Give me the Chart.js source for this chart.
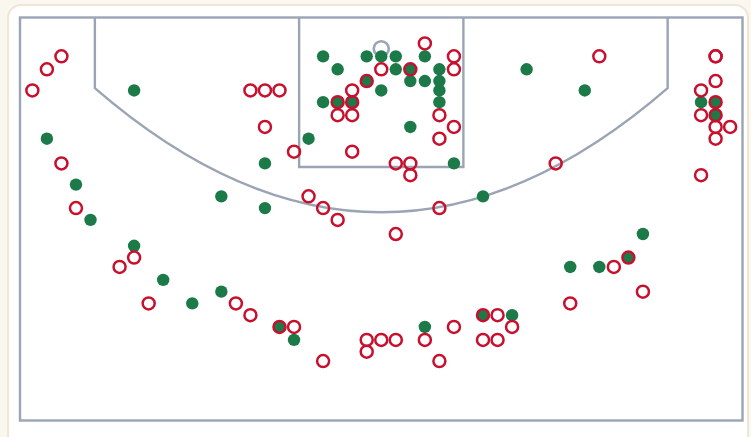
<!DOCTYPE html>
<html>
<head>
<meta charset="utf-8">
<script src="https://cdn.jsdelivr.net/npm/chart.js@4"></script>
<style>
  html, body { margin: 0; padding: 0; background: #faf7ee; overflow: hidden; }
  .card {
    position: absolute; left: 7px; top: 4px; width: 738px; height: 460px;
    background: #fff; border: 2px solid #eee7d6; border-radius: 14px;
  }
  #shotChart { position: absolute; left: 0; top: 0; }
</style>
</head>
<body>
<div class="card"></div>
<canvas id="shotChart" width="751" height="437"></canvas>
<script>
// court position of each shot: x = feet from centre line, y = distance from baseline
const madeX = [-17, -23, -21, -20, -11, -8, -8, -5, -4, -3, -4, -3, -2, -1, -1, 0, 1, 0, 1, 2, 2, 3, 3, 4, 4, 4, 4, 5, 2, 7, 10, 14, 22, 23, 23,
  -17, -15, -13, -11, -7, -6, 3, 7, 9, 13, 15, 17, 18];
const madeY = [6.2, 10.3, 14.2, 17.2, 15.2, 12.4, 16.2, 10.3, 3.3, 4.4, 7.2, 7.2, 7.2, 5.4, 3.3, 3.3, 3.3, 6.2, 4.4, 4.4, 5.4, 5.4, 3.3, 4.4, 5.4, 6.2, 7.2, 12.4, 9.3, 15.2, 4.4, 6.2, 7.2, 7.2, 8.3,
  19.4, 22.3, 24.3, 23.3, 26.3, 27.4, 26.3, 25.3, 25.3, 21.2, 21.2, 20.4, 18.4];

const missX = [-22, -23, -24, -22, -21, -9, -8, -7, -8, -6, -5, -4, -3, -3, -2, -3, -2, -2, -1, 0, 2, 3, 4, 4, 5, 5, 5, -2, 1, 2, 2, 4,
  15, 12, 23, 23, 23, 22, 23, 22, 23, 23, 24, 23, 22,
  -17, -18, -16, -10, -9, 1, -7, -6, -4, -1, 0, 1, -1, 3, 5, 4, 7, 8, 7, 8, 9, 13, 16, 17, 18];
const missY = [3.3, 4.4, 6.2, 12.4, 16.2, 6.2, 6.2, 6.2, 9.3, 11.4, 15.2, 16.2, 17.2, 7.2, 7.2, 8.3, 8.3, 6.2, 5.4, 4.4, 4.4, 2.2, 8.3, 10.3, 3.3, 4.4, 9.3, 11.4, 12.4, 12.4, 13.4, 16.2,
  3.3, 12.4, 3.3, 3.3, 5.4, 6.2, 7.2, 8.3, 8.3, 9.3, 9.3, 10.3, 13.4,
  20.4, 21.2, 24.3, 24.3, 25.3, 18.4, 26.3, 26.3, 29.2, 27.4, 27.4, 27.4, 28.4, 27.4, 26.3, 29.2, 25.3, 25.3, 27.4, 27.4, 26.3, 24.3, 21.2, 20.4, 23.3];

// court markings (same units as the shots)
const courtHalfWidth = 24.85;
const courtDepth = 34.25;
const laneHalfWidth = 5.65;
const laneDepth = 12.7;
const cornerX = 19.7;
const cornerDepth = 6.0;
const arcDepth = 16.55;
const hoopY = 2.65;

const toPoints = (xs, ys) => xs.map((x, i) => ({ x: x, y: ys[i] }));

const courtLines = {
  id: 'courtLines',
  beforeDatasetsDraw(chart) {
    const { ctx, scales: { x, y } } = chart;
    const px = v => x.getPixelForValue(v);
    const py = v => y.getPixelForValue(v);
    ctx.save();
    ctx.strokeStyle = '#9ba4b5';
    ctx.lineWidth = 2.4;
    // outer boundary
    ctx.strokeRect(px(-courtHalfWidth), py(0), px(courtHalfWidth) - px(-courtHalfWidth), py(courtDepth) - py(0));
    // lane
    ctx.beginPath();
    ctx.moveTo(px(-laneHalfWidth), py(0));
    ctx.lineTo(px(-laneHalfWidth), py(laneDepth));
    ctx.lineTo(px(laneHalfWidth), py(laneDepth));
    ctx.lineTo(px(laneHalfWidth), py(0));
    ctx.stroke();
    // three point line
    ctx.beginPath();
    ctx.moveTo(px(-cornerX), py(0));
    ctx.lineTo(px(-cornerX), py(cornerDepth));
    ctx.quadraticCurveTo(px(0), py(2 * arcDepth - cornerDepth), px(cornerX), py(cornerDepth));
    ctx.lineTo(px(cornerX), py(0));
    ctx.stroke();
    // hoop
    ctx.lineWidth = 2.6;
    ctx.beginPath();
    ctx.arc(px(0), py(hoopY), 7.5, 0, Math.PI * 2);
    ctx.stroke();
    ctx.restore();
  }
};

const ctx = document.getElementById('shotChart').getContext('2d');
const shotChart = new Chart(ctx, {
  type: 'scatter',
  data: {
    datasets: [{
      label: 'Missed',
      data: toPoints(missX, missY),
      pointRadius: 6,
      pointBorderWidth: 2.5,
      borderColor: '#c8102e',
      backgroundColor: 'rgba(0,0,0,0)',
      order: 0
    }, {
      label: 'Made',
      data: toPoints(madeX, madeY),
      pointRadius: 6.2,
      pointBorderWidth: 0,
      borderColor: '#1c7a48',
      backgroundColor: '#1c7a48',
      order: 1
    }]
  },
  options: {
    responsive: false,
    animation: false,
    layout: { padding: { left: 20, right: 8, top: 17.5, bottom: 16.5 } },
    plugins: { legend: { display: false }, tooltip: { enabled: false } },
    scales: {
      x: { display: false, min: -courtHalfWidth, max: courtHalfWidth },
      y: { display: false, min: 0, max: courtDepth, reverse: true }
    }
  },
  plugins: [courtLines]
});
</script>
</body>
</html>
